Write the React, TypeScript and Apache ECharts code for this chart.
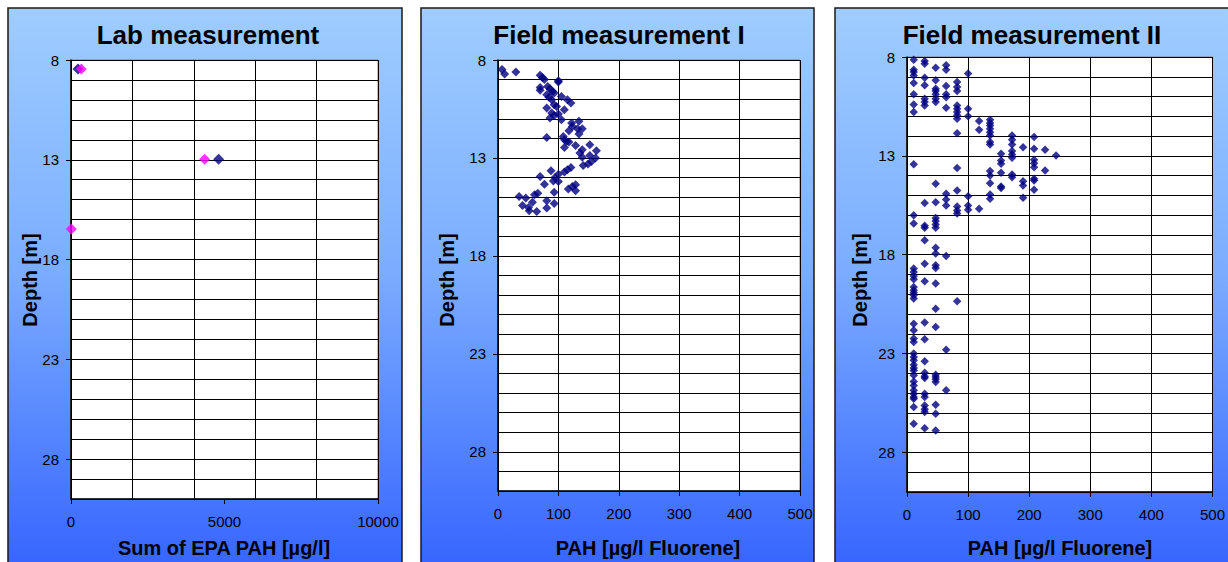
import React, { useEffect, useRef } from "react";
import * as echarts from "echarts";

// ---- Data ----
const panelTitles = ["Lab measurement", "Field measurement I", "Field measurement II"];
const xAxisNames = ["Sum of EPA PAH [µg/l]", "PAH [µg/l Fluorene]", "PAH [µg/l Fluorene]"];
const yAxisName = "Depth [m]";
const depthTicks = [8, 13, 18, 23, 28];
const labTicks = [0, 5000, 10000];

// Lab measurement: two series
const labNavyValue = [228, 4808];
const labNavyDepth = [8.45, 12.98];
const labMagentaValue = [335, 4352, 10];
const labMagentaDepth = [8.45, 12.98, 16.47];

// Field measurement I
const field1Pah = [
  6.6, 11, 29.6, 69.7, 73.5, 76.9, 100, 100, 69.7, 69.7, 82.3, 86, 90, 93, 80.7, 84.5, 88.9, 105, 115, 120.8,
  93, 80.7, 97, 109.8, 88.9, 93, 100, 86, 105, 121.9, 123, 134, 117.4, 131.7, 139.5, 134, 80.7, 108, 110, 113.6,
  117.4, 110, 128.4, 152, 139.5, 135.6, 163, 139.5, 152, 161.4, 154.8, 141, 149, 120.8, 115, 110, 87.8, 69.7, 100, 94.4,
  91.7, 100, 76.9, 116.4, 123, 128.4, 128.4, 93, 65.9, 60.4, 35, 46, 57, 40.6, 50.5, 80.7, 93, 80.7, 51.6, 64.2,
];
const field1Depth = [
  8.49, 8.72, 8.61, 8.78, 8.89, 9.0, 9.06, 9.12, 9.4, 9.55, 9.35, 9.47, 9.6, 9.69, 9.77, 9.9, 10.03, 9.86, 10.03, 10.2,
  10.28, 10.45, 10.37, 10.54, 10.71, 10.83, 10.76, 10.96, 11.05, 11.22, 11.39, 11.13, 11.61, 11.51, 11.51, 11.78, 11.95, 11.9, 12.07, 12.16,
  12.19, 12.46, 12.36, 12.33, 12.58, 12.75, 12.63, 12.97, 12.87, 13.0, 13.18, 13.38, 13.31, 13.49, 13.6, 13.72, 13.65, 13.95, 13.83, 14.0,
  14.17, 14.2, 14.34, 14.58, 14.46, 14.37, 14.68, 14.75, 14.8, 14.88, 14.97, 15.05, 15.26, 15.43, 15.53, 15.19, 15.33, 15.56, 15.7, 15.73,
];

// Field measurement II
const field2Pah = [
  11, 11, 11, 11, 11, 11, 11, 11, 11,
  29, 29, 29, 29, 29, 29, 29, 29,
  47, 47, 47, 47, 47, 47, 47, 47, 47,
  64, 64, 64, 64, 64, 64, 64, 64, 64,
  82, 82, 82, 82, 82, 82, 82, 82, 82, 82, 82, 82, 82, 82,
  100, 100, 100, 100, 100, 100,
  118, 118, 118,
  136, 136, 136, 136, 136, 136, 136, 136, 136, 136, 136, 136, 136,
  154, 154, 154, 154, 154, 154,
  172, 172, 172, 172, 172, 172, 172, 172,
  190, 190, 190, 190,
  208, 208, 208, 208, 208, 208, 208, 208,
  226, 226,
  244,
  11, 11, 11, 11, 11, 11, 11, 11, 11, 11, 11, 11, 11, 11, 11, 11, 11, 11, 11, 11, 11, 11, 11, 11, 11, 11, 11, 11, 11, 11,
  29, 29, 29, 29, 29, 29, 29, 29, 29, 29, 29, 29, 29, 29, 29, 29, 29,
  47, 47, 47, 47, 47, 47, 47, 47, 47, 47, 47, 47, 47, 47, 47, 47, 47, 47,
  64, 64, 64,
  82,
];
const field2Depth = [
  8.14, 8.64, 8.76, 8.93, 9.32, 9.89, 10.4, 10.78, 13.43,
  8.2, 8.34, 9.05, 9.43, 10.11, 10.28, 10.45, 15.39,
  8.54, 9.18, 9.6, 9.72, 9.89, 10.11, 10.28, 14.41, 15.34,
  8.42, 8.64, 9.47, 9.89, 10.03, 10.57, 14.92, 15.21, 15.51,
  9.27, 9.52, 9.72, 10.45, 10.62, 10.78, 10.95, 11.12, 11.85, 13.62, 14.75, 15.56, 15.76, 15.92,
  8.84, 10.62, 11.0, 15.04, 15.51, 15.73,
  11.24, 11.68, 15.68,
  11.17, 11.34, 11.46, 11.63, 11.8, 11.97, 12.3, 12.42, 13.77, 13.99, 14.38, 14.95, 15.17,
  12.89, 13.23, 13.4, 13.86, 14.55, 14.63,
  11.97, 12.19, 12.42, 12.76, 12.93, 13.1, 13.94, 14.08,
  12.56, 14.28, 14.5, 15.12,
  12.05, 12.64, 13.2, 13.37, 13.57, 14.16, 14.24, 14.72,
  12.69, 13.74,
  12.98,
  16.0, 16.42, 18.7, 18.87, 19.07, 19.24, 19.63, 19.8, 19.92, 20.05, 20.22, 21.49, 21.82, 22.24, 22.41, 23.0, 23.17, 23.34, 23.56, 23.73, 23.85, 24.1, 24.41, 24.61, 24.86, 25.03, 25.2, 25.28, 25.7, 26.55,
  16.54, 16.64, 17.27, 18.45, 19.34, 21.43, 22.28, 23.39, 23.97, 24.14, 24.24, 25.03, 25.2, 25.62, 25.82, 25.96, 26.77,
  16.14, 16.3, 16.47, 16.64, 17.65, 17.94, 18.53, 18.67, 19.46, 20.73, 21.65, 24.07, 24.19, 24.3, 24.44, 25.59, 26.04, 26.89,
  18.06, 22.8, 24.86,
  20.35,
];

const zip = (xs: number[], ys: number[]) => xs.map((x, i) => [x, ys[i]]);

const FONT = "'Liberation Sans', Arial, sans-serif";
const NAVY = "#000080";
const MAGENTA = "#ff00ff";

export default function App() {
  const ref = useRef<HTMLDivElement>(null);
  useEffect(() => {
    document.body.style.margin = "0";
    document.body.style.overflow = "hidden";
    const chart = echarts.init(ref.current!, null, { renderer: "svg" });

    const panels = [
      { x: 8, w: 394 },
      { x: 421, w: 393 },
      { x: 835, w: 410 },
    ];
    const grids = [
      { left: 71, top: 60, width: 307, height: 439 },
      { left: 498, top: 60, width: 302, height: 431 },
      { left: 907, top: 57, width: 307, height: 435 },
    ];
    const titleX = [208, 619, 1032];
    const yNameX = [30, 447, 860];
    const xNameX = [224, 648, 1060];

    const grad = new echarts.graphic.LinearGradient(0, 0, 0, 1, [
      { offset: 0, color: "#9fcdff" },
      { offset: 0.45, color: "#7badff" },
      { offset: 1, color: "#3260ff" },
    ]);

    const graphic: any[] = [];
    panels.forEach((p, i) => {
      graphic.push({
        type: "rect",
        z: -10,
        shape: { x: p.x, y: 8, width: p.w, height: 580 },
        style: { fill: grad, stroke: "#1a1a1a", lineWidth: 1.5 },
      });
      graphic.push({
        type: "text",
        z: 10,
        x: titleX[i],
        y: 35,
        style: {
          text: panelTitles[i],
          font: `bold 26px ${FONT}`,
          fill: "#000",
          align: "center",
          verticalAlign: "middle",
        },
      });
      graphic.push({
        type: "text",
        z: 10,
        x: yNameX[i],
        y: 280,
        rotation: Math.PI / 2,
        style: {
          text: yAxisName,
          font: `bold 20px ${FONT}`,
          fill: "#000",
          align: "center",
          verticalAlign: "middle",
        },
      });
      graphic.push({
        type: "text",
        z: 10,
        x: xNameX[i],
        y: 548,
        style: {
          text: xAxisNames[i],
          font: `bold 20px ${FONT}`,
          fill: "#000",
          align: "center",
          verticalAlign: "middle",
        },
      });
    });

    const splitLine = { show: true, lineStyle: { color: "#000", width: 1 } };
    const labelStyle = { color: "#000", fontSize: 15, fontFamily: FONT, formatter: (v: number) => String(v) };

    const xAxes: any[] = [];
    const yAxes: any[] = [];
    grids.forEach((_, i) => {
      xAxes.push({
        type: "value",
        gridIndex: i,
        position: "bottom",
        min: 0,
        max: i === 0 ? 10000 : 500,
        interval: i === 0 ? 2000 : 100,
        axisLine: { show: true, onZero: false, lineStyle: { color: "#000", width: 1.5 } },
        axisTick: { show: i !== 0, length: 5, lineStyle: { color: "#000" } },
        axisLabel: {
          ...labelStyle,
          margin: 15,
          ...(i === 0 ? { customValues: labTicks } : {}),
        },
        splitLine,
      });
      yAxes.push({
        type: "value",
        gridIndex: i,
        position: "left",
        inverse: true,
        min: 8,
        max: 30,
        interval: 1,
        axisLine: { show: true, onZero: false, lineStyle: { color: "#000", width: 1.5 } },
        axisTick: { show: false },
        axisLabel: { ...labelStyle, margin: 12, customValues: depthTicks },
        splitLine,
      });
    });
    // overlay axes that carry only the sparse tick marks
    grids.forEach((_, i) => {
      yAxes.push({
        type: "value",
        gridIndex: i,
        position: "left",
        offset: 0,
        inverse: true,
        min: 8,
        max: 30,
        interval: 1,
        axisLine: { show: false },
        axisTick: { show: true, length: 5, lineStyle: { color: "#000" }, customValues: depthTicks },
        axisLabel: { show: false },
        splitLine: { show: false },
      });
    });
    xAxes.push({
      type: "value",
      gridIndex: 0,
      position: "bottom",
      offset: 0,
      min: 0,
      max: 10000,
      interval: 2000,
      axisLine: { show: false },
      axisTick: { show: true, length: 5, lineStyle: { color: "#000" }, customValues: labTicks },
      axisLabel: { show: false },
      splitLine: { show: false },
    });

    chart.setOption({
      animation: false,
      graphic,
      grid: grids.map((g) => ({
        ...g,
        show: true,
        backgroundColor: "#ffffff",
        borderColor: "#808080",
        borderWidth: 1,
      })),
      xAxis: xAxes,
      yAxis: yAxes,
      series: [
        {
          type: "scatter",
          xAxisIndex: 0,
          yAxisIndex: 0,
          symbol: "diamond",
          symbolSize: 11,
          itemStyle: { color: NAVY },
          data: zip(labNavyValue, labNavyDepth),
        },
        {
          type: "scatter",
          xAxisIndex: 0,
          yAxisIndex: 0,
          symbol: "diamond",
          symbolSize: 11,
          itemStyle: { color: MAGENTA },
          data: zip(labMagentaValue, labMagentaDepth),
        },
        {
          type: "scatter",
          xAxisIndex: 1,
          yAxisIndex: 1,
          symbol: "diamond",
          symbolSize: 9,
          itemStyle: { color: NAVY },
          data: zip(field1Pah, field1Depth),
        },
        {
          type: "scatter",
          xAxisIndex: 2,
          yAxisIndex: 2,
          symbol: "diamond",
          symbolSize: 8.5,
          itemStyle: { color: NAVY },
          data: zip(field2Pah, field2Depth),
        },
      ],
    });
    return () => chart.dispose();
  }, []);
  return <div ref={ref} style={{ width: 1228, height: 562 }} />;
}
